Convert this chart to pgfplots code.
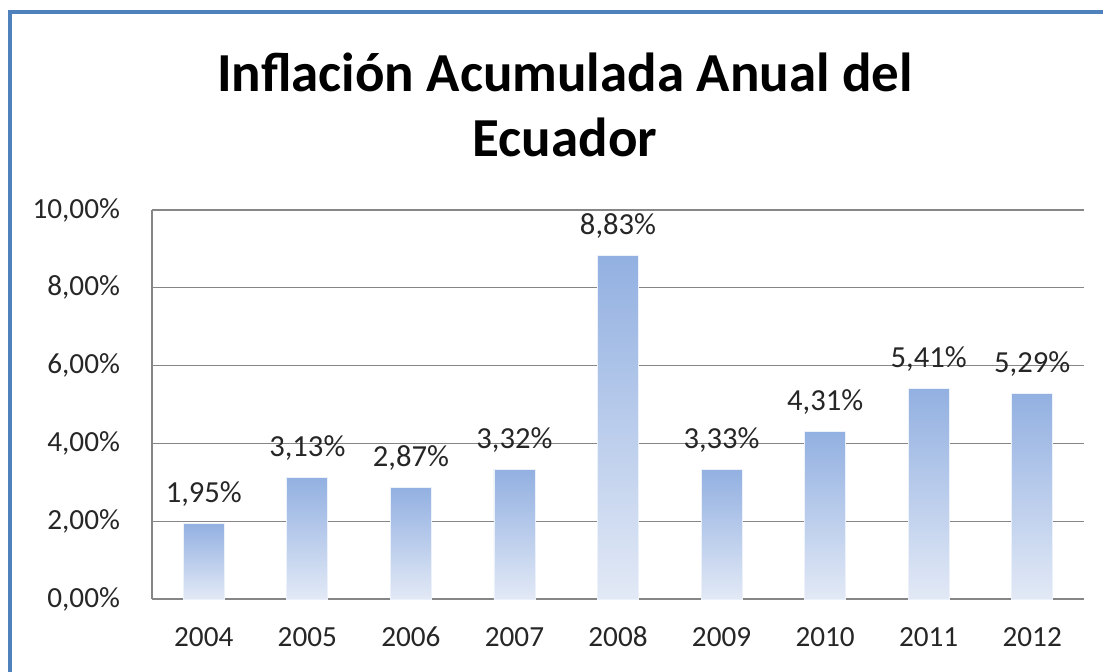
\documentclass[border=0pt]{standalone}
\usepackage{fontspec}
\setmainfont{Carlito}
\usepackage{pgfplots}
\pgfplotsset{compat=1.18}

\definecolor{frameblue}{RGB}{79,129,189}
\definecolor{bartop}{RGB}{146,176,225}
\definecolor{barbot}{RGB}{226,233,246}
\definecolor{barline}{RGB}{236,241,250}
\definecolor{gridgray}{RGB}{134,134,134}
\definecolor{txt}{RGB}{38,38,38}

\pgfplotsset{gradbar/.style={draw=barline, line width=0.4pt, top color=bartop, bottom color=barbot}}

\begin{document}
\begin{tikzpicture}
% 1 px of the reference = 0.5pt
\clip (0,0) rectangle (551.5pt,335.5pt);
\useasboundingbox (0,0) rectangle (551.5pt,335.5pt);
\draw[frameblue, line width=2pt] (5pt,-10pt) -- (5pt,329.5pt) -- (565pt,329.5pt);

\node[font=\fontsize{27.5}{32.5}\selectfont\bfseries, align=center, text=black]
  at (282.5pt,283pt) {Inflación Acumulada Anual del\\Ecuador};

\begin{axis}[
  at={(76pt,36pt)}, anchor=south west,
  scale only axis,
  width=466pt, height=194.5pt,
  ybar, bar width=20.5pt, bar shift=0pt,
  xmin=-0.5, xmax=8.5,
  ymin=0, ymax=10,
  xtick={0,...,8},
  xticklabels={2004,2005,2006,2007,2008,2009,2010,2011,2012},
  ytick={0,2,4,6,8,10},
  yticklabels={{0,00\%},{2,00\%},{4,00\%},{6,00\%},{8,00\%},{10,00\%}},
  major tick length=0pt,
  axis x line*=bottom, axis y line*=left,
  axis line style={gridgray, line width=0.6pt},
  ymajorgrids, grid style={gridgray, line width=0.6pt},
  tick label style={font=\fontsize{14.6}{17}\selectfont, text=txt},
  xticklabel style={anchor=north, text height=10pt, text depth=0pt, yshift=-10pt},
  yticklabel style={xshift=-12.5pt},
  /pgf/number format/assume math mode=true,
  nodes near coords={\pgfmathprintnumber[fixed,fixed zerofill,precision=2,use comma]{\pgfplotspointmeta}\%},
  nodes near coords style={font=\fontsize{15.3}{18}\selectfont, text=txt, anchor=south, yshift=5pt},
]
% one plot per bar, so that each bar gets its own gradient
\addplot[gradbar] coordinates {(0,1.95)};
\addplot[gradbar] coordinates {(1,3.13)};
\addplot[gradbar] coordinates {(2,2.87)};
\addplot[gradbar] coordinates {(3,3.32)};
\addplot[gradbar] coordinates {(4,8.83)};
\addplot[gradbar] coordinates {(5,3.33)};
\addplot[gradbar] coordinates {(6,4.31)};
\addplot[gradbar] coordinates {(7,5.41)};
\addplot[gradbar] coordinates {(8,5.29)};
\end{axis}
\end{tikzpicture}
\end{document}
